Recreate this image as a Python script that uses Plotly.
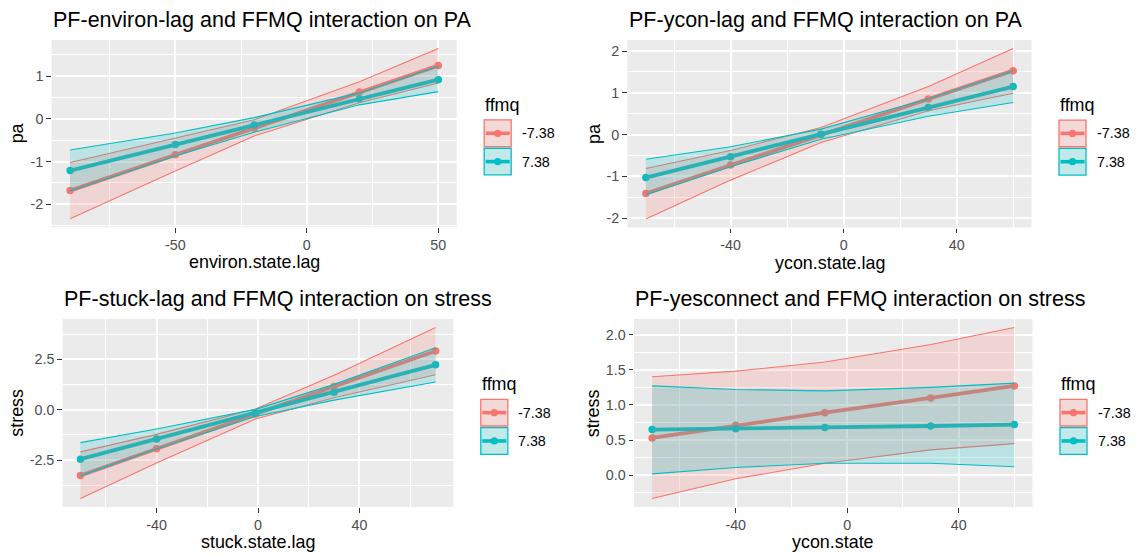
import plotly.graph_objects as go

FIG_W, FIG_H = 1141, 555

# ffmq moderator levels
ffmq_levels = ["-7.38", "7.38"]
ffmq_colors = ["#F8766D", "#00BFC4"]
ffmq_fills = ["rgba(248,118,109,0.2)", "rgba(0,191,196,0.2)"]
key_fills = ["#F3D9D7", "#C2E8E9"]

# Panel 1: PA predicted by environ.state.lag
environ_lag = [-90, -50, -20, 20, 50]
environ_fit = [[-1.68, -0.84, -0.21, 0.63, 1.25], [-1.21, -0.60, -0.14, 0.47, 0.92]]
environ_upr = [[-1.02, -0.45, -0.02, 0.87, 1.65], [-0.73, -0.33, 0.03, 0.61, 1.24]]
environ_lwr = [[-2.34, -1.22, -0.40, 0.38, 0.84], [-1.69, -0.87, -0.31, 0.33, 0.64]]
environ_xticks, environ_xlabels = [-50, 0, 50], ["-50", "0", "50"]
environ_yticks, environ_ylabels = [-2, -1, 0, 1], ["-2", "-1", "0", "1"]

# Panel 2: PA predicted by ycon.state.lag
ycon_lag = [-70, -40, -8, 30, 60]
ycon_lag_fit = [[-1.41, -0.73, 0.00, 0.85, 1.53], [-1.03, -0.53, 0.01, 0.65, 1.15]]
ycon_lag_upr = [[-0.81, -0.38, 0.17, 1.15, 2.06], [-0.59, -0.29, 0.13, 0.86, 1.53]]
ycon_lag_lwr = [[-2.02, -1.09, -0.19, 0.57, 0.99], [-1.44, -0.77, -0.11, 0.44, 0.77]]
ycon_lag_xticks, ycon_lag_xlabels = [-40, 0, 40], ["-40", "0", "40"]
ycon_lag_yticks, ycon_lag_ylabels = [-2, -1, 0, 1, 2], ["-2", "-1", "0", "1", "2"]

# Panel 3: stress predicted by stuck.state.lag
stuck_lag = [-70, -40, -1, 30, 70]
stuck_fit = [[-3.26, -1.93, -0.21, 1.15, 2.92], [-2.45, -1.45, -0.15, 0.87, 2.23]]
stuck_upr = [[-2.09, -1.22, 0.04, 1.71, 4.08], [-1.63, -0.95, 0.02, 1.26, 3.08]]
stuck_lwr = [[-4.40, -2.64, -0.46, 0.60, 1.74], [-3.28, -1.95, -0.33, 0.48, 1.38]]
stuck_xticks, stuck_xlabels = [-40, 0, 40], ["-40", "0", "40"]
stuck_yticks, stuck_ylabels = [-2.5, 0, 2.5], ["-2.5", "0.0", "2.5"]

# Panel 4: stress predicted by ycon.state
ycon_state = [-70, -40, -8, 30, 60]
ycon_fit = [[0.53, 0.71, 0.89, 1.10, 1.27], [0.65, 0.66, 0.68, 0.70, 0.72]]
ycon_upr = [[1.40, 1.48, 1.61, 1.86, 2.10], [1.27, 1.22, 1.20, 1.25, 1.31]]
ycon_lwr = [[-0.33, -0.05, 0.17, 0.36, 0.45], [0.02, 0.11, 0.17, 0.17, 0.12]]
ycon_xticks, ycon_xlabels = [-40, 0, 40], ["-40", "0", "40"]
ycon_yticks, ycon_ylabels = [0, 0.5, 1, 1.5, 2], ["0.0", "0.5", "1.0", "1.5", "2.0"]

panels = [
    dict(title="PF-environ-lag and FFMQ interaction on PA", xlab="environ.state.lag", ylab="pa",
         x=environ_lag, fit=environ_fit, upr=environ_upr, lwr=environ_lwr,
         xt=(environ_xticks, environ_xlabels), yt=(environ_yticks, environ_ylabels)),
    dict(title="PF-ycon-lag and FFMQ interaction on PA", xlab="ycon.state.lag", ylab="pa",
         x=ycon_lag, fit=ycon_lag_fit, upr=ycon_lag_upr, lwr=ycon_lag_lwr,
         xt=(ycon_lag_xticks, ycon_lag_xlabels), yt=(ycon_lag_yticks, ycon_lag_ylabels)),
    dict(title="PF-stuck-lag and FFMQ interaction on stress", xlab="stuck.state.lag", ylab="stress",
         x=stuck_lag, fit=stuck_fit, upr=stuck_upr, lwr=stuck_lwr,
         xt=(stuck_xticks, stuck_xlabels), yt=(stuck_yticks, stuck_ylabels)),
    dict(title="PF-yesconnect and FFMQ interaction on stress", xlab="ycon.state", ylab="stress",
         x=ycon_state, fit=ycon_fit, upr=ycon_upr, lwr=ycon_lwr,
         xt=(ycon_xticks, ycon_xlabels), yt=(ycon_yticks, ycon_ylabels)),
]

# panel boxes in pixels: left, top, right, bottom
PANEL_BOX = [(51.7, 40, 456.7, 227.3), (627.5, 40, 1031.5, 227.5),
             (62.7, 319, 453.3, 507), (634, 319, 1032.5, 507)]
YLAB_X = [16.7, 593.3, 16.7, 593.3]

FONT = "Liberation Sans, Arial, Helvetica, sans-serif"


def fx(px):
    return px / FIG_W


def fy(py):
    return 1 - py / FIG_H


def padded(vals):
    lo, hi = min(vals), max(vals)
    pad = 0.05 * (hi - lo)
    return [lo - pad, hi + pad]


def minor_vals(ticks):
    step = ticks[1] - ticks[0]
    return [t - step / 2 for t in ticks] + [ticks[-1] + step / 2]


fig = go.Figure()
annotations = []
shapes = []
layout = {}

for i, p in enumerate(panels):
    sfx = "" if i == 0 else str(i + 1)
    xref, yref = "x" + sfx, "y" + sfx
    x = p["x"]
    # predicted lines and points (ribbons are layered on top)
    for g in range(2):
        fig.add_trace(go.Scatter(
            x=x, y=p["fit"][g], mode="lines+markers", xaxis=xref, yaxis=yref,
            line=dict(color=ffmq_colors[g], width=3.8),
            marker=dict(color=ffmq_colors[g], size=7.5),
            showlegend=False, hoverinfo="skip"))
    # confidence ribbons with outlined bounds
    for g in range(2):
        fig.add_trace(go.Scatter(
            x=x + x[::-1], y=p["upr"][g] + p["lwr"][g][::-1], mode="lines",
            fill="toself", fillcolor=ffmq_fills[g], line=dict(width=0),
            xaxis=xref, yaxis=yref, showlegend=False, hoverinfo="skip"))
        for bound in (p["upr"][g], p["lwr"][g]):
            fig.add_trace(go.Scatter(
                x=x, y=bound, mode="lines", xaxis=xref, yaxis=yref,
                line=dict(color=ffmq_colors[g], width=1.1),
                showlegend=False, hoverinfo="skip"))

    l, t, r, b = PANEL_BOX[i]
    allx = x
    ally = p["upr"][0] + p["upr"][1] + p["lwr"][0] + p["lwr"][1]
    xt, xl = p["xt"]
    yt, yl = p["yt"]
    common = dict(
        tickmode="array", ticks="outside", ticklen=4.5, tickwidth=1.1, tickcolor="#333333",
        tickfont=dict(family=FONT, size=14.3, color="#4D4D4D"),
        showgrid=True, gridcolor="#FFFFFF", gridwidth=1.6,
        zeroline=False, showline=False, fixedrange=True,
    )
    layout["xaxis" + sfx] = dict(
        common, domain=[fx(l), fx(r)], range=padded(allx), anchor=yref,
        tickvals=xt, ticktext=xl,
        minor=dict(tickmode="array", tickvals=minor_vals(xt), showgrid=True,
                   gridcolor="#FFFFFF", gridwidth=0.8, ticks=""))
    layout["yaxis" + sfx] = dict(
        common, domain=[fy(b), fy(t)], range=padded(ally), anchor=xref,
        tickvals=yt, ticktext=yl,
        minor=dict(tickmode="array", tickvals=minor_vals(yt), showgrid=True,
                   gridcolor="#FFFFFF", gridwidth=0.8, ticks=""))

    # panel title, axis titles
    annotations.append(dict(text=p["title"], xref="paper", yref="paper", x=fx(l - 1),
                            y=fy(t - 20), xanchor="left", yanchor="middle", showarrow=False,
                            font=dict(family=FONT, size=21.5, color="#000000")))
    annotations.append(dict(text=p["xlab"], xref="paper", yref="paper", x=fx((l + r) / 2),
                            y=fy(b + 35), xanchor="center", yanchor="middle", showarrow=False,
                            font=dict(family=FONT, size=17.9, color="#000000")))
    annotations.append(dict(text=p["ylab"], xref="paper", yref="paper", x=fx(YLAB_X[i]),
                            y=fy((t + b) / 2), xanchor="center", yanchor="middle",
                            textangle=-90, showarrow=False,
                            font=dict(family=FONT, size=17.9, color="#000000")))

    # legend: title + two keys
    cy = (t + b) / 2
    kx0 = r + 27.5
    kx1 = kx0 + 27
    annotations.append(dict(text="ffmq", xref="paper", yref="paper", x=fx(kx0 - 1),
                            y=fy(cy - 28.7), xanchor="left", yanchor="middle", showarrow=False,
                            font=dict(family=FONT, size=17.9, color="#000000")))
    for g in range(2):
        ky0 = cy - 13.7 + g * 28.3
        ky1 = ky0 + 26.7
        kc = (ky0 + ky1) / 2
        shapes.append(dict(type="rect", xref="paper", yref="paper",
                           x0=fx(kx0), x1=fx(kx1), y0=fy(ky1), y1=fy(ky0),
                           fillcolor=key_fills[g], line=dict(color=ffmq_colors[g], width=1.3)))
        shapes.append(dict(type="line", xref="paper", yref="paper",
                           x0=fx(kx0 + 1.5), x1=fx(kx1 - 1.5), y0=fy(kc), y1=fy(kc),
                           line=dict(color=ffmq_colors[g], width=3.6)))
        shapes.append(dict(type="circle", xref="paper", yref="paper",
                           x0=fx(kx0 + 13.5 - 3.6), x1=fx(kx0 + 13.5 + 3.6),
                           y0=fy(kc + 3.6), y1=fy(kc - 3.6),
                           fillcolor=ffmq_colors[g], line=dict(width=0)))
        annotations.append(dict(text=ffmq_levels[g], xref="paper", yref="paper",
                                x=fx(kx1 + 8.5), y=fy(kc), xanchor="left", yanchor="middle",
                                showarrow=False,
                                font=dict(family=FONT, size=14.3, color="#000000")))

fig.update_layout(
    width=FIG_W, height=FIG_H, margin=dict(l=0, r=0, t=0, b=0),
    paper_bgcolor="#FFFFFF", plot_bgcolor="#EBEBEB",
    showlegend=False, annotations=annotations, shapes=shapes,
    font=dict(family=FONT), **layout)

fig.write_html("out.html", config={"displayModeBar": False})
